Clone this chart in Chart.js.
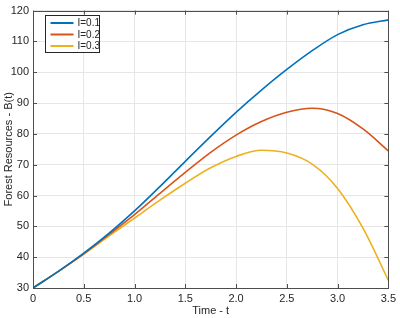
<!DOCTYPE html>
<html>
<head>
<meta charset="utf-8">
<script src="https://cdn.jsdelivr.net/npm/chart.js@4.4.0/dist/chart.umd.min.js"></script>
<style>
  body { margin: 0; background: #fff; }
  #wrap { width: 400px; height: 318px; }
</style>
</head>
<body>
<div id="wrap"><canvas id="grafico"></canvas></div>
<script>
// ========== dados =============
const tempos = [0, 0.25, 0.5, 0.75, 1, 1.25, 1.5, 1.75, 2, 2.25, 2.5, 2.75, 3, 3.25, 3.5];
const serieI01 = [30, 35.4, 41.3, 47.8, 55.0, 62.9, 71.1, 79.2, 87.0, 94.2, 100.9, 107.0, 112.2, 115.4, 117.0];
const serieI02 = [30, 35.4, 41.1, 47.4, 53.8, 60.7, 67.5, 74.0, 79.6, 84.0, 87.0, 88.3, 86.6, 81.6, 74.5];
const serieI03 = [30, 35.4, 41.0, 46.9, 52.7, 58.5, 64.0, 69.0, 72.7, 74.7, 73.8, 70.2, 62.3, 49.4, 32.5];
const rotulos = ["I=0.1", "I=0.2", "I=0.3"];
const cores = ["#0072BD", "#D95319", "#EDB120"];
const ticksX = [0, 0.5, 1, 1.5, 2, 2.5, 3, 3.5];
const ticksY = [30, 40, 50, 60, 70, 80, 90, 100, 110, 120];

function montarPontos(valores) {
  return tempos.map((t, i) => ({ x: t, y: valores[i] }));
}

// ========== caixa, ticks internos e legenda =============
const caixaPlugin = {
  id: "caixa",
  afterDatasetsDraw(chart) {
    const ctx = chart.ctx;
    const a = chart.chartArea;
    const sx = chart.scales.x;
    const sy = chart.scales.y;
    ctx.save();
    ctx.strokeStyle = "#4d4d4d";
    ctx.lineWidth = 1;
    ctx.strokeRect(Math.round(a.left) + 0.5, Math.round(a.top) + 0.5,
      Math.round(a.right - a.left), Math.round(a.bottom - a.top));
    ctx.beginPath();
    ticksX.forEach((v) => {
      const px = Math.round(sx.getPixelForValue(v)) + 0.5;
      ctx.moveTo(px, a.bottom); ctx.lineTo(px, a.bottom - 4);
      ctx.moveTo(px, a.top); ctx.lineTo(px, a.top + 4);
    });
    ticksY.forEach((v) => {
      const py = Math.round(sy.getPixelForValue(v)) + 0.5;
      ctx.moveTo(a.left, py); ctx.lineTo(a.left + 4, py);
      ctx.moveTo(a.right, py); ctx.lineTo(a.right - 4, py);
    });
    ctx.stroke();

    // legenda
    const lx = 45.5, ly = 15.5, lw = 54, lh = 37;
    ctx.fillStyle = "#fff";
    ctx.fillRect(lx, ly, lw, lh);
    ctx.strokeStyle = "#262626";
    ctx.strokeRect(lx, ly, lw, lh);
    ctx.font = "10px 'Liberation Sans', Arial, sans-serif";
    ctx.textBaseline = "middle";
    chart.data.datasets.forEach((ds, i) => {
      const yy = ly + 7.5 + i * 11.5;
      ctx.strokeStyle = ds.borderColor;
      ctx.lineWidth = 2;
      ctx.beginPath();
      ctx.moveTo(lx + 5, yy); ctx.lineTo(lx + 28, yy);
      ctx.stroke();
      ctx.fillStyle = "#262626";
      ctx.fillText(ds.label, lx + 32, yy + 0.5);
    });
    ctx.restore();
  },
};

// ========== grafico =============
function plotarGrafico(idGrafico) {
  const ctx = document.getElementById(idGrafico).getContext("2d");
  const series = [serieI01, serieI02, serieI03];
  let myChart = new Chart(ctx, {
    type: "line",
    data: {
      datasets: series.map((s, i) => ({
        label: rotulos[i],
        data: montarPontos(s),
        borderColor: cores[i],
        backgroundColor: cores[i],
        borderWidth: 1.6,
        pointRadius: 0,
        cubicInterpolationMode: "monotone",
        fill: false,
      })),
    },
    options: {
      responsive: true,
      maintainAspectRatio: false,
      animation: false,
      layout: { padding: { top: 5, right: 7, left: 0, bottom: 0 } },
      plugins: { legend: { display: false }, tooltip: { enabled: false } },
      scales: {
        x: {
          type: "linear",
          min: 0,
          max: 3.5,
          afterBuildTicks: (s) => { s.ticks = ticksX.map((v) => ({ value: v })); },
          afterFit: (s) => { s.height = 30; },
          grid: { color: "#e6e6e6", drawTicks: false },
          border: { display: false },
          ticks: { color: "#262626", padding: 4, maxRotation: 0, font: { size: 11, family: "'Liberation Sans', Arial" } },
          title: { display: true, text: "Time - t", color: "#262626", padding: { top: 1, bottom: 0 }, font: { size: 11, family: "'Liberation Sans', Arial" } },
        },
        y: {
          min: 30,
          max: 120,
          afterBuildTicks: (s) => { s.ticks = ticksY.map((v) => ({ value: v })); },
          afterFit: (s) => { s.width = 33; },
          grid: { color: "#e6e6e6", drawTicks: false },
          border: { display: false },
          ticks: { color: "#262626", padding: 4, font: { size: 11, family: "'Liberation Sans', Arial" } },
          title: { display: true, text: "Forest Resources - B(t)", color: "#262626", padding: { top: 2, bottom: 0 }, font: { size: 11, family: "'Liberation Sans', Arial" } },
        },
      },
    },
    plugins: [caixaPlugin],
  });
}

plotarGrafico("grafico");
</script>
</body>
</html>
